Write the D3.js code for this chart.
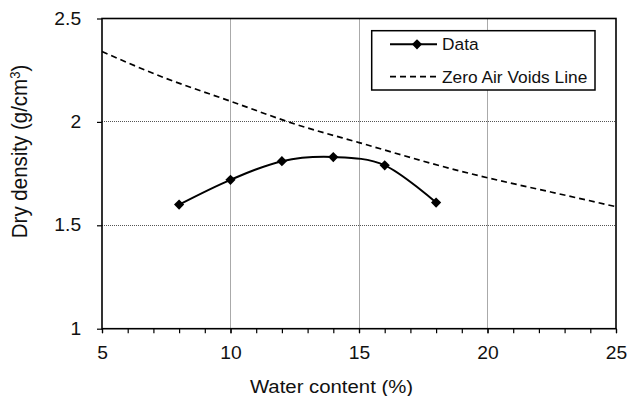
<!DOCTYPE html>
<html>
<head>
<meta charset="utf-8">
<script src="https://cdn.jsdelivr.net/npm/d3@7"></script>
<style>
  html, body { margin: 0; padding: 0; background: #fff; }
  svg { display: block; font-family: "Liberation Sans", Arial, sans-serif; }
</style>
</head>
<body>
<svg id="chart" width="628" height="396"></svg>
<script>
// Compaction test results
const waterContent = [8, 10, 12, 14, 16, 18];
const dryDensity = [1.60, 1.72, 1.81, 1.83, 1.79, 1.61];

// Zero air voids curve
const zavWater = [5, 7.5, 10, 12.5, 15, 17.5, 20, 22.5, 25];
const zavDensity = [2.34, 2.21, 2.10, 1.99, 1.90, 1.81, 1.73, 1.66, 1.59];

const xTicks = [5, 10, 15, 20, 25];
const xMinorTicks = d3.range(5, 26, 1);
const yTicks = [1, 1.5, 2, 2.5];
const xGrid = [10, 15, 20];
const yGrid = [1.5, 2];

const legendLabels = ["Data", "Zero Air Voids Line"];
const xTitle = "Water content (%)";

const svg = d3.select("#chart");
const plotL = 102, plotR = 616, plotT = 18.5, plotB = 328.7;
const stretch = 1.1;

const x = d3.scaleLinear().domain([5, 25]).range([plotL, plotR]);
const y = d3.scaleLinear().domain([1, 2.5]).range([plotB, plotT]);
const crisp = v => Math.floor(v) + 0.5;

// Gridlines
svg.append("g").selectAll("line").data(xGrid).join("line")
  .attr("x1", d => crisp(x(d))).attr("x2", d => crisp(x(d)))
  .attr("y1", plotT).attr("y2", plotB)
  .attr("stroke", "#555").attr("stroke-width", 1).attr("stroke-dasharray", "1,1");
svg.append("g").selectAll("line").data(yGrid).join("line")
  .attr("x1", plotL).attr("x2", plotR)
  .attr("y1", d => crisp(y(d))).attr("y2", d => crisp(y(d)))
  .attr("stroke", "#555").attr("stroke-width", 1).attr("stroke-dasharray", "1,1");

// Plot frame
svg.append("rect")
  .attr("x", plotL).attr("y", plotT)
  .attr("width", plotR - plotL).attr("height", plotB - plotT)
  .attr("fill", "none").attr("stroke", "#000").attr("stroke-width", 1.6);

// X axis: minor ticks every unit, labels at the majors
const xAxisMinor = d3.axisBottom(x).tickValues(xMinorTicks).tickSize(4.5).tickFormat("");
svg.append("g").attr("transform", `translate(0,${plotB})`).call(xAxisMinor)
  .call(g => g.select(".domain").remove())
  .call(g => g.selectAll("line").attr("stroke", "#000").attr("stroke-width", 1.2));

const xAxis = d3.axisBottom(x).tickValues(xTicks).tickSize(4.5).tickPadding(13).tickFormat(d3.format("d"));
svg.append("g").attr("transform", `translate(0,${plotB})`).call(xAxis)
  .call(g => g.select(".domain").remove())
  .call(g => g.selectAll("line").attr("stroke", "#000").attr("stroke-width", 1.2))
  .call(g => g.selectAll("text")
    .attr("font-size", 17.5).attr("fill", "#111")
    .attr("font-family", "Liberation Sans, Arial, sans-serif")
    .attr("transform", `scale(${stretch},1)`));

// Y axis
const yAxis = d3.axisLeft(y).tickValues(yTicks).tickSize(5).tickPadding(14).tickFormat(d => String(d));
svg.append("g").attr("transform", `translate(${plotL},0)`).call(yAxis)
  .call(g => g.select(".domain").remove())
  .call(g => g.selectAll("line").attr("stroke", "#000").attr("stroke-width", 1.2))
  .call(g => g.selectAll("text")
    .attr("font-size", 17.5).attr("fill", "#111")
    .attr("font-family", "Liberation Sans, Arial, sans-serif")
    .attr("transform", `scale(${stretch},1)`));

// Axis titles
svg.append("text")
  .attr("transform", `translate(331.5,393) scale(${stretch},1)`)
  .attr("text-anchor", "middle").attr("font-size", 18.5).attr("fill", "#111")
  .text(xTitle);

const yTitle = svg.append("text")
  .attr("transform", `translate(27,151.5) rotate(-90) scale(1,${stretch})`)
  .attr("text-anchor", "middle").attr("font-size", 20.5).attr("fill", "#111");
yTitle.append("tspan").text("Dry density (g/cm");
yTitle.append("tspan").attr("baseline-shift", "super").attr("font-size", 13).text("3");
yTitle.append("tspan").text(")");

// Zero air voids line
const zav = zavWater.map((w, i) => [w, zavDensity[i]]);
svg.append("path")
  .datum(zav)
  .attr("fill", "none").attr("stroke", "#000").attr("stroke-width", 1.7)
  .attr("stroke-dasharray", "6,4")
  .attr("d", d3.line().x(d => x(d[0])).y(d => y(d[1])).curve(d3.curveNatural));

// Measured data, smoothed
const pts = waterContent.map((w, i) => [w, dryDensity[i]]);
svg.append("path")
  .datum(pts)
  .attr("fill", "none").attr("stroke", "#000").attr("stroke-width", 2)
  .attr("d", d3.line().x(d => x(d[0])).y(d => y(d[1])).curve(d3.curveCardinal.tension(0)));

const diamond = d3.symbol().type(d3.symbolSquare).size(52);
svg.append("g").selectAll("path").data(pts).join("path")
  .attr("d", diamond)
  .attr("transform", d => `translate(${x(d[0])},${y(d[1])}) rotate(45)`)
  .attr("fill", "#000");

// Legend
const lg = svg.append("g");
lg.append("rect")
  .attr("x", 371.7).attr("y", 30.7).attr("width", 223.3).attr("height", 59.3)
  .attr("fill", "#fff").attr("stroke", "#000").attr("stroke-width", 1.5);
lg.append("line").attr("x1", 390).attr("x2", 437).attr("y1", 44.3).attr("y2", 44.3)
  .attr("stroke", "#000").attr("stroke-width", 2);
lg.append("path").attr("d", diamond).attr("transform", "translate(417,44.3) rotate(45)").attr("fill", "#000");
lg.append("line").attr("x1", 390).attr("x2", 437).attr("y1", 76.7).attr("y2", 76.7)
  .attr("stroke", "#000").attr("stroke-width", 1.7).attr("stroke-dasharray", "6,4");
lg.selectAll("text.lbl").data(legendLabels).join("text")
  .attr("class", "lbl")
  .attr("transform", (d, i) => `translate(442,${[50.3, 82.7][i]}) scale(1.05,1)`)
  .attr("font-size", 16.5).attr("fill", "#111")
  .text(d => d);
</script>
</body>
</html>
